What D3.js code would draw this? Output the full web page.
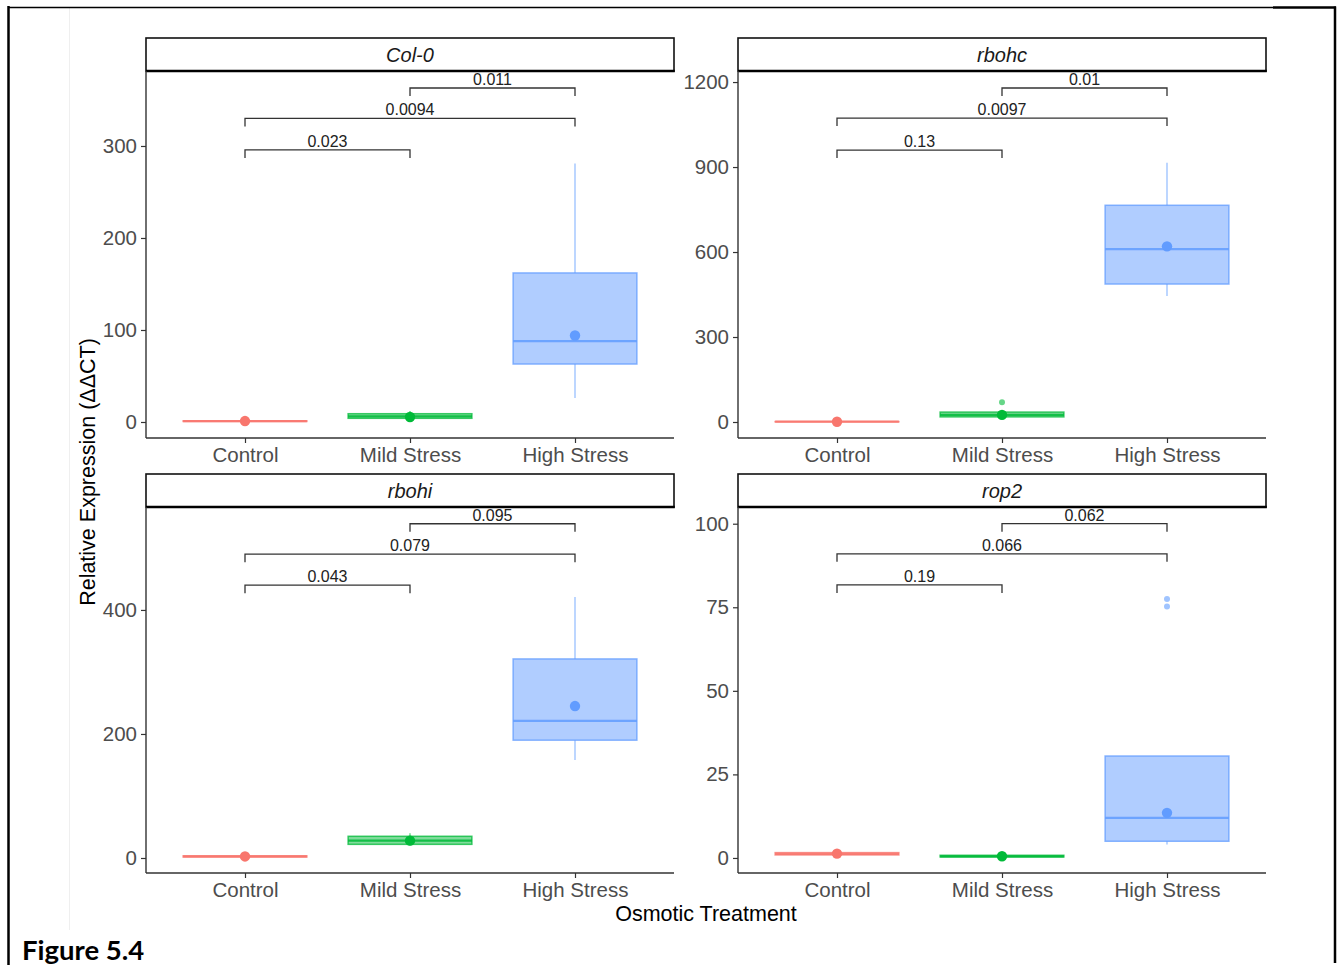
<!DOCTYPE html>
<html>
<head>
<meta charset="utf-8">
<script src="https://cdn.jsdelivr.net/npm/d3@7"></script>
<style>
  html, body { margin: 0; padding: 0; background: #fff; }
  svg { display: block; }
</style>
</head>
<body>
<svg id="chart" width="1343" height="965"></svg>
<script>
// ---- data ----
const genes = ["Col-0", "rbohc", "rbohi", "rop2"];
const treatments = ["Control", "Mild Stress", "High Stress"];
const treatmentColors = ["#F8766D", "#00BA38", "#619CFF"];

// box statistics per gene (rows) and treatment (columns)
const whiskerLow  = [[0.4, 3, 26], [0.3, 15, 445], [1, 20, 158], [0.8, 0.2, 4]];
const lowerQuart  = [[0.6, 4, 63], [0.6, 18, 487], [1.5, 22, 190], [0.9, 0.3, 5]];
const medians     = [[1.0, 6, 88], [1.0, 25, 610], [2.5, 28, 221], [1.2, 0.5, 12]];
const upperQuart  = [[1.3, 9, 162], [1.4, 35, 765], [3.5, 35, 321], [1.6, 0.8, 30.5]];
const whiskerHigh = [[1.6, 12, 281], [1.8, 40, 915], [4, 40, 421], [1.8, 1, 30.5]];
const means       = [[1.0, 5.4, 94], [1.0, 25, 620], [2.5, 28, 245], [1.3, 0.5, 13.5]];
const outliers    = [[[], [], []], [[], [70], []], [[], [], []], [[], [], [75.2, 77.5]]];

// y axes
const yDomains = [[-17.4, 381.5], [-56.5, 1239], [-24.2, 566], [-4.5, 105]];
const yTicks = [[0, 100, 200, 300], [0, 300, 600, 900, 1200], [0, 200, 400], [0, 25, 50, 75, 100]];

// pairwise comparisons: Control–Mild, Control–High, Mild–High
const comparisons = [[0, 1], [0, 2], [1, 2]];
const pLabels = [["0.023", "0.0094", "0.011"], ["0.13", "0.0097", "0.01"],
                 ["0.043", "0.079", "0.095"], ["0.19", "0.066", "0.062"]];
const bracketY = [[295.7, 330, 363], [960, 1073, 1179], [440, 490, 539], [81.7, 91, 100]];

const xTitle = "Osmotic Treatment";
const yTitle = "Relative Expression (ΔΔCT)";
const figureLabel = "Figure 5.4";

// ---- layout ----
const svg = d3.select("#chart");
const font = "'Liberation Sans', Arial, sans-serif";
const panelLeft = [146, 738];
const panelWidth = 528;
const stripTop = [38, 474];
const stripH = 33;
const axisBottom = [438, 873];

// outer frame
const frame = svg.append("g");
frame.append("line").attr("x1", 69.5).attr("x2", 69.5).attr("y1", 8).attr("y2", 930)
  .attr("stroke", "#efefef").attr("stroke-width", 1);
frame.append("line").attr("x1", 8.5).attr("x2", 8.5).attr("y1", 6).attr("y2", 965)
  .attr("stroke", "#000").attr("stroke-width", 2.5);
frame.append("line").attr("x1", 8).attr("x2", 1273).attr("y1", 7.5).attr("y2", 7.5)
  .attr("stroke", "#000").attr("stroke-width", 1.3);
frame.append("line").attr("x1", 1273).attr("x2", 1336).attr("y1", 7.5).attr("y2", 7.5)
  .attr("stroke", "#000").attr("stroke-width", 2.5);
frame.append("line").attr("x1", 1335).attr("x2", 1335).attr("y1", 6.5).attr("y2", 963)
  .attr("stroke", "#000").attr("stroke-width", 2.5);

genes.forEach((gene, gi) => {
  const col = gi % 2, row = Math.floor(gi / 2);
  const left = panelLeft[col], right = left + panelWidth;
  const top = stripTop[row] + stripH, bottom = axisBottom[row];

  // discrete x positions with 0.6 expansion on either side
  const x = d3.scaleLinear().domain([0.4, 3.6]).range([left, right]);
  const xPos = i => x(i + 1);
  const band = x(2) - x(1);
  const y = d3.scaleLinear().domain(yDomains[gi]).range([bottom, top]);

  const g = svg.append("g");

  // strip
  g.append("rect").attr("x", left).attr("y", stripTop[row]).attr("width", panelWidth).attr("height", stripH)
    .attr("fill", "#fff").attr("stroke", "#111").attr("stroke-width", 1.6);
  g.append("line").attr("x1", left).attr("x2", right + 0.8).attr("y1", top).attr("y2", top)
    .attr("stroke", "#000").attr("stroke-width", 2.4);
  g.append("text").attr("x", left + panelWidth / 2).attr("y", stripTop[row] + 24)
    .attr("text-anchor", "middle").attr("font-family", font).attr("font-style", "italic")
    .attr("font-size", 20).attr("fill", "#1a1a1a").text(gene);

  // y axis
  const yAxis = d3.axisLeft(y).tickValues(yTicks[gi]).tickFormat(d3.format("d")).tickSize(5).tickPadding(4);
  const ya = g.append("g").attr("transform", `translate(${left},0)`).call(yAxis);
  ya.select(".domain").attr("d", `M0,${top}V${bottom}`).attr("stroke", "#333").attr("stroke-width", 1.4);
  ya.selectAll(".tick line").attr("stroke", "#333").attr("stroke-width", 1.2);
  ya.selectAll(".tick text").attr("font-family", font).attr("font-size", 20.5).attr("fill", "#4d4d4d");

  // x axis
  const xAxis = d3.axisBottom(x).tickValues([1, 2, 3]).tickFormat(d => treatments[d - 1]).tickSize(5).tickPadding(4);
  const xa = g.append("g").attr("transform", `translate(0,${bottom})`).call(xAxis);
  xa.select(".domain").attr("d", `M${left},0H${right}`).attr("stroke", "#333").attr("stroke-width", 1.4);
  xa.selectAll(".tick line").attr("stroke", "#333").attr("stroke-width", 1.2);
  xa.selectAll(".tick text").attr("font-family", font).attr("font-size", 20.5).attr("fill", "#4d4d4d");

  // boxplots
  treatments.forEach((t, ti) => {
    const cx = xPos(ti), hw = band * 0.375, c = treatmentColors[ti];
    const bg = g.append("g");
    bg.append("line").attr("x1", cx).attr("x2", cx)
      .attr("y1", y(whiskerLow[gi][ti])).attr("y2", y(lowerQuart[gi][ti]))
      .attr("stroke", c).attr("stroke-opacity", 0.7).attr("stroke-width", 1.2);
    bg.append("line").attr("x1", cx).attr("x2", cx)
      .attr("y1", y(upperQuart[gi][ti])).attr("y2", y(whiskerHigh[gi][ti]))
      .attr("stroke", c).attr("stroke-opacity", 0.7).attr("stroke-width", 1.2);
    const yq3 = y(upperQuart[gi][ti]), yq1 = y(lowerQuart[gi][ti]);
    bg.append("rect").attr("x", cx - hw).attr("width", 2 * hw)
      .attr("y", yq3).attr("height", Math.max(0.01, yq1 - yq3))
      .attr("fill", c).attr("fill-opacity", 0.5)
      .attr("stroke", c).attr("stroke-opacity", 0.75).attr("stroke-width", 1.5);
    bg.append("line").attr("x1", cx - hw).attr("x2", cx + hw)
      .attr("y1", y(medians[gi][ti])).attr("y2", y(medians[gi][ti]))
      .attr("stroke", c).attr("stroke-opacity", 0.85).attr("stroke-width", 2.2);
    outliers[gi][ti].forEach(v => {
      bg.append("circle").attr("cx", cx).attr("cy", y(v)).attr("r", 3)
        .attr("fill", c).attr("fill-opacity", 0.6);
    });
    bg.append("circle").attr("cx", cx).attr("cy", y(means[gi][ti])).attr("r", 5.2).attr("fill", c);
  });

  // significance brackets
  comparisons.forEach(([a, b], ci) => {
    const by = y(bracketY[gi][ci]);
    const x1 = xPos(a), x2 = xPos(b), tip = 8;
    g.append("path").attr("d", `M${x1},${by + tip}V${by}H${x2}V${by + tip}`)
      .attr("fill", "none").attr("stroke", "#333").attr("stroke-width", 1.3);
    g.append("text").attr("x", (x1 + x2) / 2).attr("y", by - 3)
      .attr("text-anchor", "middle").attr("font-family", "'Liberation Sans Narrow', 'Liberation Sans', Arial, sans-serif")
      .attr("font-size", 16).attr("fill", "#222").text(pLabels[gi][ci]);
  });
});

// shared axis titles
svg.append("text").attr("transform", "translate(95,472) rotate(-90)")
  .attr("text-anchor", "middle").attr("font-family", font).attr("font-size", 21.5).attr("fill", "#000")
  .text(yTitle);
svg.append("text").attr("x", 706).attr("y", 921)
  .attr("text-anchor", "middle").attr("font-family", font).attr("font-size", 21.5).attr("fill", "#000")
  .text(xTitle);

// figure caption
svg.append("text").attr("x", 22).attr("y", 960)
  .attr("font-family", "Lato, 'Open Sans', sans-serif").attr("font-weight", "bold")
  .attr("font-size", 27.5).attr("fill", "#000").text(figureLabel);
</script>
</body>
</html>
